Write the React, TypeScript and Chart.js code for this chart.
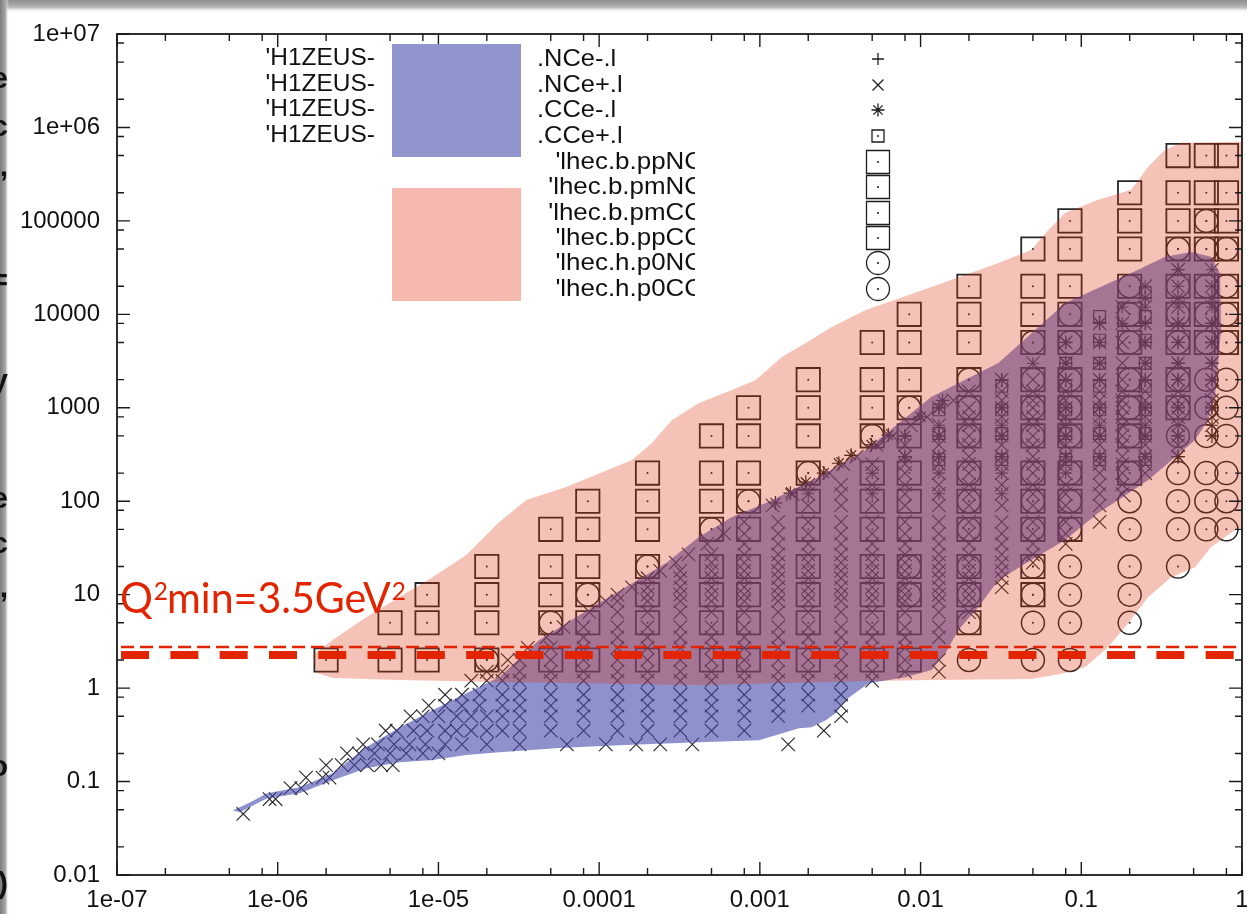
import React, { useEffect, useRef } from 'react';
import { Chart, registerables } from 'chart.js';

Chart.register(...registerables);

// ---------------- axes ----------------
const xTickValues = [1e-7, 1e-6, 1e-5, 1e-4, 1e-3, 1e-2, 1e-1, 1];
const xTickLabels = ['1e-07', '1e-06', '1e-05', '0.0001', '0.001', '0.01', '0.1', '1'];
const yTickValues = [0.01, 0.1, 1, 10, 100, 1000, 10000, 100000, 1000000, 10000000];
const yTickLabels = ['0.01', '0.1', '1', '10', '100', '1000', '10000', '100000', '1e+06', '1e+07'];
const minorTickMultipliers = [2, 5, 8];

// ---------------- shaded regions (x, Q2) ----------------
const h1zeusBandX = [5.25e-7, 7.0e-7, 8.55e-7, 1.37e-6, 2.2e-6, 3.57e-6, 5.73e-6, 9.18e-6, 1.49e-5, 2.39e-5, 4.24e-5, 1.0e-4, 2.61e-4, 4.18e-4, 6.7e-4, 1.09e-3, 2.33e-3, 4.55e-3, 1.17e-2, 3.05e-2, 7.95e-2, 0.2045, 0.3325, 0.482, 0.642, 0.73, 0.741, 0.679, 0.615, 0.511, 0.261, 0.17, 0.1275, 0.0795, 0.0489, 0.0305, 0.0229, 0.0172, 0.0143, 0.0117, 0.00807, 0.00475, 0.00342, 0.00297, 0.00257, 0.0021, 0.00175, 9.86e-4, 4.18e-4, 1.33e-4, 5.64e-5, 2.39e-5, 1.49e-5, 9.18e-6, 5.73e-6, 3.57e-6, 2.2e-6, 1.37e-6, 8.55e-7, 5.81e-7];
const h1zeusBandQ2 = [0.049, 0.062, 0.075, 0.087, 0.123, 0.234, 0.38, 0.58, 0.88, 1.31, 3.27, 8.13, 21.8, 41.4, 67.7, 95.7, 182, 353, 1310, 3020, 13200, 27700, 41200, 46600, 41200, 27700, 6810, 1310, 740, 452, 169, 103, 74.8, 38.4, 23.5, 14.3, 7.36, 4.18, 2.37, 1.56, 1.31, 1.13, 0.744, 0.54, 0.454, 0.382, 0.373, 0.2775, 0.264, 0.245, 0.228, 0.2065, 0.192, 0.17, 0.161, 0.139, 0.1035, 0.075, 0.066, 0.047];

const lhecBandX = [1.65e-6, 2.2e-6, 3.57e-6, 5.73e-6, 9.18e-6, 1.49e-5, 2.39e-5, 3.52e-5, 6.24e-5, 1.6e-4, 2.13e-4, 2.84e-4, 4.18e-4, 6.7e-4, 9.44e-4, 1.37e-3, 1.93e-3, 2.8e-3, 4.55e-3, 1.17e-2, 3.05e-2, 4.89e-2, 6.24e-2, 7.95e-2, 0.1275, 0.2045, 0.261, 0.3325, 0.418, 1, 1, 0.905, 0.642, 0.511, 0.362, 0.261, 0.196, 0.147, 0.106, 0.0795, 0.0489, 0.0117, 0.00496, 4.18e-4, 2.39e-5, 5.73e-6, 2.2e-6, 1.75e-6];
const lhecBandQ2 = [2.26, 3.27, 5.75, 9.42, 15.4, 26.5, 59.9, 103, 142, 276, 420, 740, 1125, 1550, 1980, 3500, 4940, 7330, 11100, 19600, 35500, 48900, 80100, 122000, 168000, 215000, 379000, 576000, 684000, 701000, 52.9, 49.2, 32.3, 19.7, 15.4, 9.42, 4.97, 2.75, 1.68, 1.45, 1.25, 1.22, 1.19, 1.077, 1.16, 1.22, 1.28, 1.45];

// ---------------- Q2 min lines ----------------
const q2minLineX = [1.06e-7, 1];
const q2minThinQ2 = 2.75;
const q2minThickQ2 = 2.26;

// ---------------- LHeC pseudo data (columns of x, list of Q2) ----------------
const lhecSquareX = [2e-6, 5e-6, 8.5e-6, 2e-5, 5e-5, 8.5e-5, 2e-4, 5e-4, 8.5e-4, 2e-3, 5e-3, 8.5e-3, 0.02, 0.05, 0.085, 0.2, 0.4, 0.6, 0.8];
const lhecSquareQ2 = [
  [2],
  [2, 5],
  [2, 5, 10],
  [2, 5, 10, 20],
  [2, 5, 10, 20, 50],
  [2, 5, 10, 20, 50, 100],
  [2, 5, 10, 20, 50, 100, 200],
  [2, 5, 10, 20, 50, 100, 200, 500],
  [2, 5, 10, 20, 50, 100, 200, 500, 1000],
  [2, 5, 10, 20, 50, 100, 200, 500, 1000, 2000],
  [2, 5, 10, 20, 50, 100, 200, 500, 1000, 2000, 5000],
  [2, 5, 10, 20, 50, 100, 200, 500, 1000, 2000, 5000, 10000],
  [5, 10, 20, 50, 100, 200, 500, 1000, 2000, 5000, 10000, 20000],
  [10, 20, 50, 100, 200, 500, 1000, 2000, 5000, 10000, 20000, 50000],
  [50, 100, 200, 500, 1000, 2000, 5000, 10000, 20000, 50000, 100000],
  [200, 500, 1000, 2000, 5000, 10000, 20000, 50000, 100000, 200000],
  [1000, 2000, 5000, 10000, 20000, 50000, 100000, 200000, 500000],
  [5000, 10000, 20000, 50000, 100000, 200000, 500000],
  [5000, 10000, 20000, 50000, 100000, 200000, 500000],
];
const lhecCircleX = [2e-5, 5e-5, 8.5e-5, 2e-4, 5e-4, 8.5e-4, 2e-3, 5e-3, 8.5e-3, 0.02, 0.05, 0.085, 0.2, 0.4, 0.6, 0.8];
const lhecCircleQ2 = [
  [2], [5], [10], [20], [50], [100], [200], [500],
  [10, 20, 1000],
  [2, 5, 10, 20, 50, 100, 200, 500, 1000, 2000],
  [2, 5, 10, 20, 50, 100, 200, 500, 1000, 2000, 5000],
  [2, 5, 10, 20, 50, 100, 200, 500, 1000, 2000, 5000, 10000],
  [5, 10, 20, 50, 100, 200, 500, 1000, 2000, 5000, 10000, 20000],
  [20, 50, 100, 200, 500, 1000, 2000, 5000, 10000, 20000, 50000],
  [50, 100, 200, 500, 1000, 2000, 5000, 10000, 20000, 50000, 100000],
  [50, 100, 200, 500, 1000, 2000, 5000, 10000, 20000, 50000],
];

// ---------------- H1/ZEUS data (rows of Q2, list of x) ----------------
const h1ncPosQ2 = [0.045, 0.065, 0.085, 0.11, 0.15, 0.2, 0.25, 0.35, 0.5, 0.65, 0.85, 1.2, 1.5, 2, 2.7, 3.5, 4.5, 6.5, 8.5, 10, 12, 15, 18, 22, 27, 35, 45, 60, 90, 120, 150, 200, 250, 300, 400, 500, 650, 800, 1000, 1200, 1500, 2000, 3000, 5000, 8000, 12000, 20000, 30000];
const h1ncPosX = [
  [6.1e-7],
  [8.9e-7, 9.7e-7],
  [1.2e-6, 1.4e-6],
  [1.5e-6, 1.9e-6, 2.1e-6],
  [2.0e-6, 2.5e-6, 3.0e-6, 3.6e-6, 4.4e-6, 5.2e-6],
  [2.7e-6, 3.2e-6, 4.0e-6, 5.0e-6, 6.3e-6, 8.0e-6, 1.0e-5],
  [3.4e-6, 4.2e-6, 5.3e-6, 6.6e-6, 8.3e-6, 1.1e-5, 1.4e-5, 2.0e-5, 3.2e-5, 6.3e-5, 1.1e-4, 1.7e-4, 2.4e-4, 3.8e-4, 1.5e-3],
  [4.7e-6, 5.5e-6, 7e-6, 8.5e-6, 1.1e-5, 1.3e-5, 1.6e-5, 2e-5, 2.5e-5, 3.2e-5, 5e-5, 8e-5, 1.3e-4, 2e-4, 3.2e-4, 5e-4, 8e-4, 2.5e-3],
  [6.7e-6, 8e-6, 1e-5, 1.3e-5, 1.6e-5, 2e-5, 2.5e-5, 3.2e-5, 5e-5, 8e-5, 1.3e-4, 2e-4, 3.2e-4, 5e-4, 8e-4, 1.3e-3, 3.2e-3],
  [8.7e-6, 1.1e-5, 1.4e-5, 1.8e-5, 2.5e-5, 3.2e-5, 5e-5, 8e-5, 1.3e-4, 2e-4, 3.2e-4, 5e-4, 8e-4, 1.3e-3, 2e-3, 3.2e-3],
  [1.1e-5, 1.4e-5, 1.8e-5, 2.5e-5, 3.2e-5, 5e-5, 8e-5, 1.3e-4, 2e-4, 3.2e-4, 5e-4, 8e-4, 1.3e-3, 2e-3, 3.2e-3],
  [1.6e-5, 2e-5, 2.5e-5, 3.2e-5, 5e-5, 8e-5, 1.3e-4, 2e-4, 3.2e-4, 5e-4, 8e-4, 1.3e-3, 2e-3, 3.2e-3, 5e-3],
  [2e-5, 2.5e-5, 3.2e-5, 5e-5, 8e-5, 1.3e-4, 2e-4, 3.2e-4, 5e-4, 8e-4, 1.3e-3, 2e-3, 3.2e-3, 5e-3, 8e-3, 0.013],
  [2.7e-5, 3.2e-5, 5e-5, 8e-5, 1.3e-4, 2e-4, 3.2e-4, 5e-4, 8e-4, 1.3e-3, 2e-3, 3.2e-3, 5e-3, 8e-3, 0.013],
  [3.6e-5, 5e-5, 8e-5, 1.3e-4, 2e-4, 3.2e-4, 5e-4, 8e-4, 1.3e-3, 2e-3, 3.2e-3, 5e-3, 8e-3],
  [4.7e-5, 8e-5, 1.3e-4, 2e-4, 3.2e-4, 5e-4, 8e-4, 1.3e-3, 2e-3, 3.2e-3, 5e-3, 8e-3, 0.013],
  [6e-5, 8e-5, 1.3e-4, 2e-4, 3.2e-4, 5e-4, 8e-4, 1.3e-3, 2e-3, 3.2e-3, 5e-3, 8e-3, 0.013],
  [8.7e-5, 1.3e-4, 2e-4, 3.2e-4, 5e-4, 8e-4, 1.3e-3, 2e-3, 3.2e-3, 5e-3, 8e-3, 0.013, 0.02],
  [1.1e-4, 1.3e-4, 2e-4, 3.2e-4, 5e-4, 8e-4, 1.3e-3, 2e-3, 3.2e-3, 5e-3, 8e-3, 0.013, 0.02],
  [1.3e-4, 2e-4, 3.2e-4, 5e-4, 8e-4, 1.3e-3, 2e-3, 3.2e-3, 5e-3, 8e-3, 0.013, 0.02],
  [1.6e-4, 2e-4, 3.2e-4, 5e-4, 8e-4, 1.3e-3, 2e-3, 3.2e-3, 5e-3, 8e-3, 0.013, 0.02, 0.032],
  [2e-4, 3.2e-4, 5e-4, 8e-4, 1.3e-3, 2e-3, 3.2e-3, 5e-3, 8e-3, 0.013, 0.02, 0.032],
  [2.4e-4, 3.2e-4, 5e-4, 8e-4, 1.3e-3, 2e-3, 3.2e-3, 5e-3, 8e-3, 0.013, 0.02, 0.032],
  [3e-4, 5e-4, 8e-4, 1.3e-3, 2e-3, 3.2e-3, 5e-3, 8e-3, 0.013, 0.02, 0.032, 0.05],
  [3.6e-4, 5e-4, 8e-4, 1.3e-3, 2e-3, 3.2e-3, 5e-3, 8e-3, 0.013, 0.02, 0.032, 0.05],
  [4.7e-4, 8e-4, 1.3e-3, 2e-3, 3.2e-3, 5e-3, 8e-3, 0.013, 0.02, 0.032, 0.05, 0.08],
  [6e-4, 8e-4, 1.3e-3, 2e-3, 3.2e-3, 5e-3, 8e-3, 0.013, 0.02, 0.032, 0.05, 0.08],
  [8e-4, 1.3e-3, 2e-3, 3.2e-3, 5e-3, 8e-3, 0.013, 0.02, 0.032, 0.05, 0.08, 0.13],
  [1.2e-3, 2e-3, 3.2e-3, 5e-3, 8e-3, 0.013, 0.02, 0.032, 0.05, 0.08, 0.13],
  [1.6e-3, 2e-3, 3.2e-3, 5e-3, 8e-3, 0.013, 0.02, 0.032, 0.05, 0.08, 0.13, 0.18],
  [2e-3, 3.2e-3, 5e-3, 8e-3, 0.013, 0.02, 0.032, 0.05, 0.08, 0.13, 0.18],
  [2.7e-3, 5e-3, 8e-3, 0.013, 0.02, 0.032, 0.05, 0.08, 0.13, 0.18, 0.25],
  [3.3e-3, 5e-3, 8e-3, 0.013, 0.02, 0.032, 0.05, 0.08, 0.13, 0.18, 0.25],
  [4e-3, 8e-3, 0.013, 0.02, 0.032, 0.05, 0.08, 0.13, 0.18, 0.25, 0.4],
  [5.3e-3, 8e-3, 0.013, 0.02, 0.032, 0.05, 0.08, 0.13, 0.18, 0.25, 0.4],
  [6.7e-3, 0.013, 0.02, 0.032, 0.05, 0.08, 0.13, 0.18, 0.25, 0.4],
  [8.7e-3, 0.013, 0.02, 0.032, 0.05, 0.08, 0.13, 0.18, 0.25, 0.4, 0.65],
  [0.011, 0.02, 0.032, 0.05, 0.08, 0.13, 0.18, 0.25, 0.4, 0.65],
  [0.013, 0.02, 0.032, 0.05, 0.08, 0.13, 0.18, 0.25, 0.4, 0.65],
  [0.016, 0.032, 0.05, 0.08, 0.13, 0.18, 0.25, 0.4, 0.65],
  [0.02, 0.032, 0.05, 0.08, 0.13, 0.18, 0.25, 0.4, 0.65],
  [0.032, 0.05, 0.08, 0.13, 0.18, 0.25, 0.4, 0.65],
  [0.05, 0.08, 0.13, 0.18, 0.25, 0.4, 0.65],
  [0.08, 0.13, 0.18, 0.25, 0.4, 0.65],
  [0.13, 0.18, 0.25, 0.4, 0.65],
  [0.18, 0.25, 0.4, 0.65],
  [0.25, 0.4, 0.65],
  [0.4, 0.65],
];

const h1ncNegQ2 = [120, 200, 300, 500, 650, 1000, 2000, 3000, 5000, 8000, 12000, 20000, 30000];
const h1ncNegX = [
  [0.002, 0.005, 0.013, 0.032],
  [0.005, 0.013, 0.032, 0.08],
  [0.008, 0.013, 0.032, 0.08, 0.13, 0.25, 0.4],
  [0.008, 0.013, 0.032, 0.08, 0.13, 0.25, 0.4],
  [0.013, 0.032, 0.08, 0.13, 0.25, 0.4, 0.65],
  [0.013, 0.032, 0.08, 0.13, 0.25, 0.4, 0.65],
  [0.032, 0.08, 0.13, 0.25, 0.4, 0.65],
  [0.05, 0.08, 0.13, 0.25, 0.4, 0.65],
  [0.08, 0.13, 0.25, 0.4, 0.65],
  [0.13, 0.18, 0.25, 0.4, 0.65],
  [0.18, 0.25, 0.4, 0.65],
  [0.25, 0.4, 0.65],
  [0.4, 0.65],
];

const h1ccNegEdgeX = [1.25e-3, 1.55e-3, 1.93e-3, 2.5e-3, 3.1e-3, 3.7e-3, 4.95e-3, 6.3e-3, 1e-2, 1.37e-2];
const h1ccNegEdgeQ2 = [96, 122, 160, 200, 255, 310, 400, 510, 800, 1200];
const h1ccNegQ2 = [300, 500, 1000, 2000, 3000, 5000, 8000, 15000, 30000];
const h1ccNegX = [
  [0.008, 0.013, 0.032, 0.08, 0.13, 0.25, 0.4],
  [0.008, 0.013, 0.032, 0.08, 0.13, 0.25, 0.4, 0.65],
  [0.013, 0.032, 0.08, 0.13, 0.25, 0.4, 0.65],
  [0.032, 0.08, 0.13, 0.25, 0.4, 0.65],
  [0.08, 0.13, 0.25, 0.4, 0.65],
  [0.08, 0.13, 0.25, 0.4, 0.65],
  [0.13, 0.25, 0.4, 0.65],
  [0.25, 0.4, 0.65],
  [0.4],
];

const h1ccPosQ2 = [280, 530, 950, 1700, 3000, 5300, 9500, 17000];
const h1ccPosX = [
  [0.013, 0.032, 0.08, 0.13, 0.25],
  [0.013, 0.032, 0.08, 0.13, 0.25],
  [0.013, 0.032, 0.08, 0.13, 0.25],
  [0.032, 0.08, 0.13, 0.25],
  [0.08, 0.13, 0.25],
  [0.13, 0.25],
  [0.13, 0.25],
  [0.25],
];

// ---------------- legend / annotation text ----------------
const h1LegendPrefix = "'H1ZEUS-";
const h1LegendSuffixes = ['.NCe-.l', '.NCe+.l', '.CCe-.l', '.CCe+.l'];
const lhecLegendLabels = ["'lhec.b.ppNC", "'lhec.b.pmNC", "'lhec.b.pmCC", "'lhec.b.ppCC", "'lhec.h.p0NC", "'lhec.h.p0CC"];
const q2minText = ['Q', '2', 'min=3.5GeV', '2'];
const sideFragments = ['e', 'c', ',', '=', 'y', 'e', 'c', ',', 'o', ')'];

// ---------------- helpers ----------------
const pairs = (xs: number[], ys: number[]) => xs.map((x, i) => ({ x, y: ys[i] }));
const byColumn = (xs: number[], ys: number[][]) => xs.flatMap((x, i) => ys[i].map((y) => ({ x, y })));
const byRow = (ys: number[], xs: number[][]) => ys.flatMap((y, i) => xs[i].map((x) => ({ x, y })));

const RED = '#e32400';
const MARK = '#262626';

function scaledText(ctx: any, text: string, x: number, y: number, align: string, sx: number) {
  ctx.save();
  ctx.translate(x, y);
  ctx.scale(sx, 1);
  ctx.textAlign = align;
  ctx.fillText(text, 0, 0);
  ctx.restore();
}

const decorPlugin = {
  id: 'decor',
  beforeDraw(chart: any) {
    const ctx = chart.ctx;
    const W = chart.width;
    const H = chart.height;
    ctx.save();
    ctx.fillStyle = '#ffffff';
    ctx.fillRect(0, 0, W, H);
    let g = ctx.createLinearGradient(0, 0, 0, 13);
    g.addColorStop(0, '#8e8e8e');
    g.addColorStop(0.55, '#b4b4b4');
    g.addColorStop(1, 'rgba(255,255,255,0)');
    ctx.fillStyle = g;
    ctx.fillRect(0, 0, W, 13);
    g = ctx.createLinearGradient(0, 0, 9, 0);
    g.addColorStop(0, '#7c7c7c');
    g.addColorStop(0.6, '#a6a6a6');
    g.addColorStop(1, 'rgba(255,255,255,0)');
    ctx.fillStyle = g;
    ctx.fillRect(0, 0, 9, H);
    // cut-off slide text at the left border
    ctx.fillStyle = '#111';
    ctx.font = 'bold 30px "Liberation Sans"';
    ctx.textAlign = 'right';
    ctx.textBaseline = 'alphabetic';
    const baselines = [88, 136, 176, 290, 390, 508, 553, 597, 776, 893];
    sideFragments.forEach((c, i) => ctx.fillText(c, 8, baselines[i]));
    ctx.restore();
  },
  afterDatasetsDraw(chart: any) {
    const { ctx, chartArea: a, scales } = chart;
    const xs = scales.x;
    const ys = scales.y;
    ctx.save();
    ctx.strokeStyle = '#1a1a1a';
    ctx.lineWidth = 1.4;
    ctx.beginPath();
    xTickValues.forEach((d) => {
      const p = xs.getPixelForValue(d);
      ctx.moveTo(p, a.bottom); ctx.lineTo(p, a.bottom - 13);
      ctx.moveTo(p, a.top); ctx.lineTo(p, a.top + 13);
      minorTickMultipliers.forEach((m) => {
        const v = d * m;
        if (v > xs.max) return;
        const q = xs.getPixelForValue(v);
        ctx.moveTo(q, a.bottom); ctx.lineTo(q, a.bottom - 7);
        ctx.moveTo(q, a.top); ctx.lineTo(q, a.top + 7);
      });
    });
    yTickValues.forEach((d) => {
      const p = ys.getPixelForValue(d);
      ctx.moveTo(a.left, p); ctx.lineTo(a.left + 13, p);
      ctx.moveTo(a.right, p); ctx.lineTo(a.right - 13, p);
      minorTickMultipliers.forEach((m) => {
        const v = d * m;
        if (v > ys.max) return;
        const q = ys.getPixelForValue(v);
        ctx.moveTo(a.left, q); ctx.lineTo(a.left + 7, q);
        ctx.moveTo(a.right, q); ctx.lineTo(a.right - 7, q);
      });
    });
    ctx.stroke();
    ctx.lineWidth = 1.8;
    ctx.strokeRect(a.left, a.top, a.right - a.left, a.bottom - a.top);
    ctx.restore();
  },
  afterDraw(chart: any) {
    const ctx = chart.ctx;
    ctx.save();
    // legend colour boxes
    ctx.fillStyle = 'rgb(145,149,206)';
    ctx.fillRect(392, 44, 129, 113);
    ctx.fillStyle = 'rgb(245,185,175)';
    ctx.fillRect(392, 188, 129, 113);
    // legend text
    ctx.fillStyle = '#111';
    ctx.font = '24px "Liberation Sans"';
    ctx.textBaseline = 'middle';
    const h1Rows = [59, 85, 110, 136];
    h1Rows.forEach((y, i) => {
      scaledText(ctx, h1LegendPrefix, 375, y - 1, 'right', 1.02);
      scaledText(ctx, h1LegendSuffixes[i], 537, y, 'left', 1.06);
    });
    const lhecRows = [162, 187, 213, 238, 263, 289];
    ctx.save();
    ctx.beginPath();
    ctx.rect(530, 140, 165, 170);
    ctx.clip();
    lhecRows.forEach((y, i) => scaledText(ctx, lhecLegendLabels[i], 703, y, 'right', 1.08));
    ctx.restore();
    // legend symbols
    const sx = 878;
    ctx.strokeStyle = '#1e1e1e';
    ctx.lineWidth = 1.3;
    ctx.beginPath();
    ctx.moveTo(sx - 6, 59); ctx.lineTo(sx + 6, 59); ctx.moveTo(sx, 53); ctx.lineTo(sx, 65);
    ctx.moveTo(sx - 5.5, 79.5); ctx.lineTo(sx + 5.5, 90.5); ctx.moveTo(sx + 5.5, 79.5); ctx.lineTo(sx - 5.5, 90.5);
    ctx.moveTo(sx - 6.5, 110); ctx.lineTo(sx + 6.5, 110); ctx.moveTo(sx, 103.5); ctx.lineTo(sx, 116.5);
    ctx.moveTo(sx - 4.6, 105.4); ctx.lineTo(sx + 4.6, 114.6); ctx.moveTo(sx + 4.6, 105.4); ctx.lineTo(sx - 4.6, 114.6);
    ctx.rect(sx - 6, 130, 12, 12);
    [162, 187, 213, 238].forEach((y) => ctx.rect(sx - 11.5, y - 11.5, 23, 23));
    ctx.stroke();
    [263, 289].forEach((y) => { ctx.beginPath(); ctx.arc(sx, y, 11.5, 0, Math.PI * 2); ctx.stroke(); });
    ctx.fillStyle = '#1e1e1e';
    [136, 162, 187, 213, 238, 263, 289].forEach((y) => { ctx.beginPath(); ctx.arc(sx, y, 1, 0, Math.PI * 2); ctx.fill(); });

    // Q2min annotation
    ctx.fillStyle = RED;
    ctx.textBaseline = 'alphabetic';
    ctx.textAlign = 'left';
    const big = '42px Lato';
    const small = '25px Lato';
    const fonts = [big, small, big, small];
    let total = 0;
    const widths = q2minText.map((t, i) => { ctx.font = fonts[i]; const w = ctx.measureText(t).width; total += w; return w; });
    const k = 285 / total;
    ctx.translate(120, 613);
    ctx.scale(k, 1);
    let x = 0;
    q2minText.forEach((t, i) => {
      ctx.font = fonts[i];
      const isSup = i % 2 === 1;
      ctx.fillText(t, x + (isSup ? 1 : 0), isSup ? -13 : 0);
      x += widths[i];
    });
    ctx.restore();
  },
};

export default function App() {
  const ref = useRef<HTMLCanvasElement | null>(null);
  useEffect(() => {
    const canvas = ref.current;
    if (!canvas) return;
    const squares = byColumn(lhecSquareX, lhecSquareQ2);
    const circles = byColumn(lhecCircleX, lhecCircleQ2);
    const ccPos = byRow(h1ccPosQ2, h1ccPosX);
    const dots = [...squares, ...circles, ...ccPos];
    const markerBase = { type: 'scatter', showLine: false, backgroundColor: 'rgba(0,0,0,0)', borderColor: MARK, order: 3 };

    const chart = new Chart(canvas, {
      type: 'scatter',
      data: {
        datasets: [
          {
            type: 'line', label: 'Q2min thick', data: pairs(q2minLineX, [q2minThickQ2, q2minThickQ2]),
            borderColor: RED, borderWidth: 8, borderDash: [28, 21.3], pointRadius: 0, fill: false, order: 0,
          },
          {
            type: 'line', label: 'Q2min thin', data: pairs(q2minLineX, [q2minThinQ2, q2minThinQ2]),
            borderColor: RED, borderWidth: 2.5, borderDash: [13, 6], pointRadius: 0, fill: false, order: 0,
          },
          {
            type: 'line', label: 'LHeC', data: pairs(lhecBandX, lhecBandQ2), fill: 'shape',
            backgroundColor: 'rgba(222,52,18,0.3)', borderColor: 'rgba(0,0,0,0)', borderWidth: 0, pointRadius: 0, tension: 0, order: 1,
          },
          {
            type: 'line', label: 'H1ZEUS', data: pairs(h1zeusBandX, h1zeusBandQ2), fill: 'shape',
            backgroundColor: 'rgba(67,72,170,0.6)', borderColor: 'rgba(0,0,0,0)', borderWidth: 0, pointRadius: 0, tension: 0, order: 2,
          },
          { ...markerBase, label: 'lhec.b', data: squares, pointStyle: 'rect', pointRadius: 16.5, borderWidth: 1.8 },
          { ...markerBase, label: 'lhec.h', data: circles, pointStyle: 'circle', pointRadius: 11.5, borderWidth: 1.5 },
          { ...markerBase, label: 'dots', data: dots, pointStyle: 'circle', pointRadius: 1, borderWidth: 0, backgroundColor: MARK },
          { ...markerBase, label: 'NCe+', data: byRow(h1ncPosQ2, h1ncPosX), pointStyle: 'crossRot', pointRadius: 9.5, borderWidth: 1.1 },
          { ...markerBase, label: 'NCe-', data: byRow(h1ncNegQ2, h1ncNegX), pointStyle: 'cross', pointRadius: 6, borderWidth: 1.1 },
          { ...markerBase, label: 'CCe-', data: [...pairs(h1ccNegEdgeX, h1ccNegEdgeQ2), ...byRow(h1ccNegQ2, h1ccNegX)], pointStyle: 'star', pointRadius: 7, borderWidth: 1.2 },
          { ...markerBase, label: 'CCe+', data: ccPos, pointStyle: 'rect', pointRadius: 8.3, borderWidth: 1.2 },
        ],
      },
      options: {
        responsive: false,
        animation: false,
        devicePixelRatio: 1,
        events: [],
        layout: { autoPadding: false, padding: { left: 0, top: 34, right: 5, bottom: 0 } },
        plugins: { legend: { display: false }, tooltip: { enabled: false } },
        scales: {
          x: {
            type: 'logarithmic', min: 1e-7, max: 1, position: 'bottom',
            afterBuildTicks: (s: any) => { s.ticks = xTickValues.map((v) => ({ value: v })); },
            afterFit: (s: any) => { s.height = 39; },
            grid: { display: false, drawTicks: false },
            border: { display: false },
            ticks: {
              autoSkip: false, maxRotation: 0, minRotation: 0, padding: -2, color: '#111',
              font: { family: '"Liberation Sans"', size: 24, lineHeight: 2.25 },
              callback: (_v: any, i: number) => xTickLabels[i],
            },
          },
          y: {
            type: 'logarithmic', min: 0.01, max: 1e7, position: 'left',
            afterBuildTicks: (s: any) => { s.ticks = yTickValues.map((v) => ({ value: v })); },
            afterFit: (s: any) => { s.width = 117; },
            grid: { display: false, drawTicks: false },
            border: { display: false },
            ticks: {
              autoSkip: false, padding: 17, color: '#111',
              font: { family: '"Liberation Sans"', size: 24 },
              callback: (_v: any, i: number) => yTickLabels[i],
            },
          },
        },
      } as any,
      plugins: [decorPlugin],
    } as any);
    return () => chart.destroy();
  }, []);

  return (
    <div style={{ position: 'fixed', left: 0, top: 0, width: 1247, height: 914, background: '#fff' }}>
      <canvas ref={ref} width={1247} height={914} style={{ display: 'block', width: 1247, height: 914 }} />
    </div>
  );
}
